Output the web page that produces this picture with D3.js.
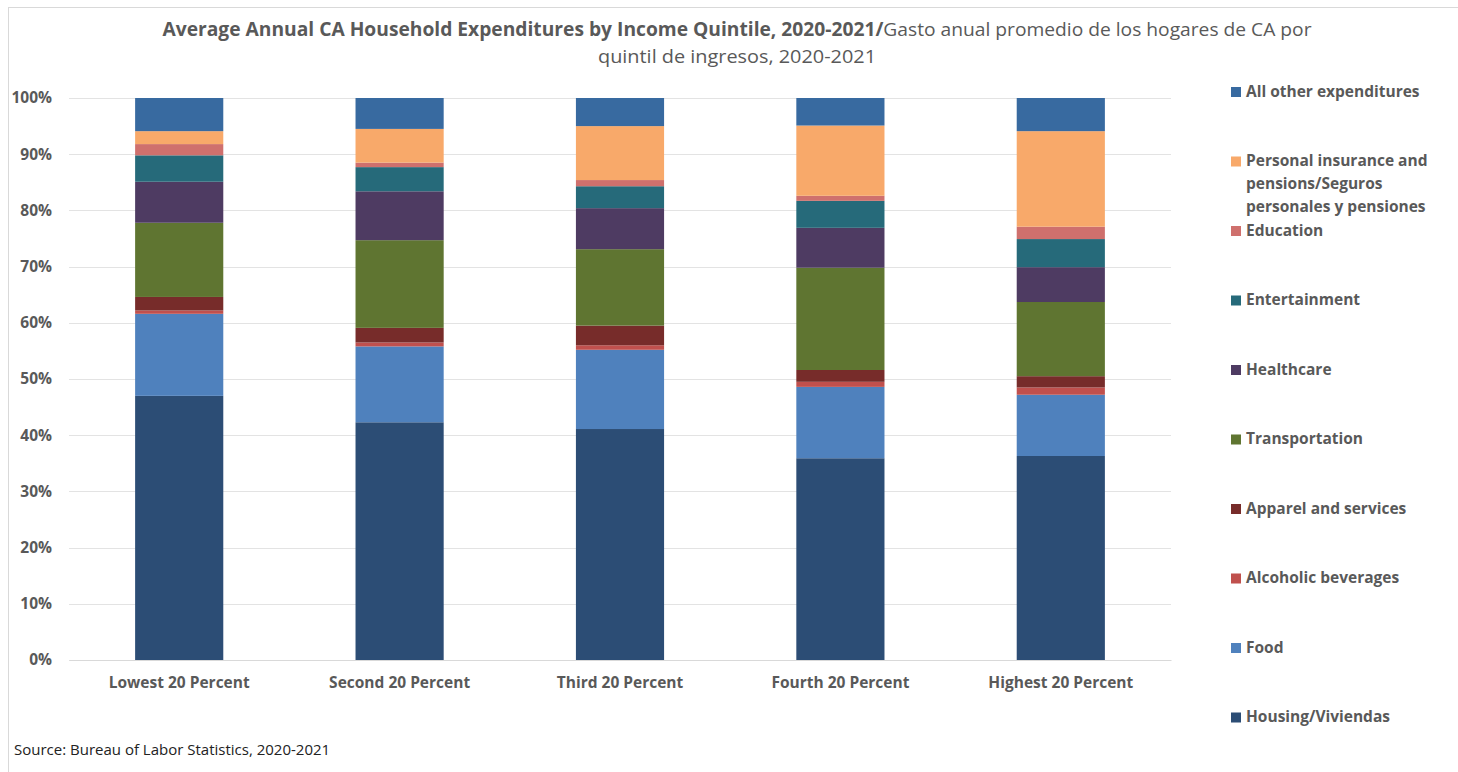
<!DOCTYPE html>
<html>
<head>
<meta charset="utf-8">
<script src="https://cdn.jsdelivr.net/npm/d3@7"></script>
<style>
  html, body { margin: 0; padding: 0; background: #fff; }
  svg { display: block; font-family: "Open Sans", "Noto Sans", sans-serif; }
</style>
</head>
<body>
<div id="chart"></div>
<script>
// categories along the x axis
var quintiles = ['Lowest 20 Percent', 'Second 20 Percent', 'Third 20 Percent', 'Fourth 20 Percent', 'Highest 20 Percent'];

// series, stacked bottom to top (percent of total spending)
var seriesNames = ['Housing/Viviendas', 'Food', 'Alcoholic beverages', 'Apparel and services', 'Transportation',
    'Healthcare', 'Entertainment', 'Education', 'Personal insurance and pensions/Seguros personales y pensiones',
    'All other expenditures'];

var housing        = [47.0, 42.3, 41.1, 35.9, 36.3];
var food           = [14.6, 13.5, 14.1, 12.7, 10.9];
var alcohol        = [0.6, 0.7, 0.8, 0.9, 1.3];
var apparel        = [2.4, 2.6, 3.5, 2.1, 2.0];
var transportation = [13.2, 15.6, 13.6, 18.2, 13.2];
var healthcare     = [7.3, 8.7, 7.3, 7.1, 6.2];
var entertainment  = [4.7, 4.3, 3.9, 4.8, 5.0];
var education      = [2.0, 0.8, 1.1, 0.9, 2.2];
var insurance      = [2.3, 6.0, 9.6, 12.5, 17.0];
var otherExp       = [5.9, 5.5, 5.0, 4.9, 5.9];

var yTicks = [0, 10, 20, 30, 40, 50, 60, 70, 80, 90, 100];

var colors = ['#2c4d75', '#4f81bd', '#c0504d', '#772c2a', '#5f7531',
    '#4e3b62', '#266a7a', '#cf706d', '#f8a96a', '#386aa0'];

var W = 1458, H = 772;
var textColor = '#595959';
var fontFam = '"Open Sans", "Noto Sans", sans-serif';

// build rows for d3.stack
var allSeries = [housing, food, alcohol, apparel, transportation, healthcare, entertainment, education, insurance, otherExp];
var rows = quintiles.map(function(q, i) {
    var r = { quintile: q };
    seriesNames.forEach(function(s, j) { r[s] = allSeries[j][i]; });
    return r;
});

var svg = d3.select('#chart').append('svg').attr('width', W).attr('height', H);

svg.append('rect')
    .attr('x', 8.5).attr('y', 7.5)
    .attr('width', W).attr('height', H)
    .attr('fill', '#fff').attr('stroke', '#d9d9d9');

var x = d3.scaleBand().domain(quintiles).range([69, 1171]).paddingInner(0.6).paddingOuter(0.3);
var y = d3.scaleLinear().domain([0, 100]).range([660, 98]);

// gridlines
svg.append('g')
    .selectAll('line')
    .data(yTicks)
    .enter().append('line')
    .attr('x1', 69).attr('x2', 1171)
    .attr('y1', function(d) { return Math.round(y(d)) + 0.5; })
    .attr('y2', function(d) { return Math.round(y(d)) + 0.5; })
    .attr('stroke', '#e3e3e3').attr('stroke-width', 1);

// y axis labels
var yAxis = svg.append('g')
    .attr('transform', 'translate(52,0)')
    .call(d3.axisLeft(y).tickValues(yTicks).tickSize(0).tickPadding(0)
        .tickFormat(function(d) { return d + '%'; }));
yAxis.select('.domain').remove();
yAxis.selectAll('text')
    .attr('fill', textColor)
    .style('font-family', fontFam)
    .style('font-size', '15.5px').style('font-weight', 'bold');

// x axis labels
var xAxis = svg.append('g')
    .attr('transform', 'translate(0,660)')
    .call(d3.axisBottom(x).tickSize(0).tickPadding(17));
xAxis.select('.domain').attr('stroke', '#d9d9d9');
xAxis.selectAll('text')
    .attr('fill', textColor)
    .style('font-family', fontFam)
    .style('font-size', '15.5px').style('font-weight', 'bold');

// stacked bars
var stacked = d3.stack().keys(seriesNames)(rows);

svg.append('g')
    .selectAll('g')
    .data(stacked)
    .enter().append('g')
    .attr('fill', function(d, i) { return colors[i]; })
    .selectAll('rect')
    .data(function(d) { return d; })
    .enter().append('rect')
    .attr('x', function(d) { return x(d.data.quintile); })
    .attr('width', x.bandwidth())
    .attr('y', function(d) { return y(d[1]); })
    .attr('height', function(d) { return y(d[0]) - y(d[1]); });

// title
var title = svg.append('text')
    .attr('x', 737).attr('y', 36)
    .attr('text-anchor', 'middle')
    .attr('fill', textColor)
    .style('font-size', '19px')
    .attr('textLength', 1149).attr('lengthAdjust', 'spacingAndGlyphs');
title.append('tspan').style('font-weight', 'bold')
    .text('Average Annual CA Household Expenditures by Income Quintile, 2020-2021/');
title.append('tspan').text('Gasto anual promedio de los hogares de CA por');

svg.append('text')
    .attr('x', 737).attr('y', 63)
    .attr('text-anchor', 'middle')
    .attr('fill', textColor)
    .style('font-size', '19px')
    .attr('textLength', 278).attr('lengthAdjust', 'spacingAndGlyphs')
    .text('quintil de ingresos, 2020-2021');

// legend, top entry is the top of the stack
var legendItems = [
    { lines: ['All other expenditures'], c: 9 },
    { lines: ['Personal insurance and', 'pensions/Seguros', 'personales y pensiones'], c: 8 },
    { lines: ['Education'], c: 7 },
    { lines: ['Entertainment'], c: 6 },
    { lines: ['Healthcare'], c: 5 },
    { lines: ['Transportation'], c: 4 },
    { lines: ['Apparel and services'], c: 3 },
    { lines: ['Alcoholic beverages'], c: 2 },
    { lines: ['Food'], c: 1 },
    { lines: ['Housing/Viviendas'], c: 0 }
];

var legend = svg.append('g').selectAll('g')
    .data(legendItems)
    .enter().append('g')
    .attr('transform', function(d, i) { return 'translate(1231,' + (91.5 + i * 69.5) + ')'; });

legend.append('rect')
    .attr('x', 0).attr('y', -4.5)
    .attr('width', 10).attr('height', 10)
    .attr('fill', function(d) { return colors[d.c]; });

legend.append('text')
    .attr('fill', textColor)
    .style('font-size', '15.5px').style('font-weight', 'bold')
    .selectAll('tspan')
    .data(function(d) { return d.lines; })
    .enter().append('tspan')
    .attr('x', 15)
    .attr('y', function(d, i) { return i * 23; })
    .attr('dy', '0.35em')
    .text(function(d) { return d; });

svg.append('text')
    .attr('x', 14).attr('y', 755)
    .attr('fill', '#222')
    .style('font-size', '15px')
    .text('Source: Bureau of Labor Statistics, 2020-2021');
</script>
</body>
</html>
